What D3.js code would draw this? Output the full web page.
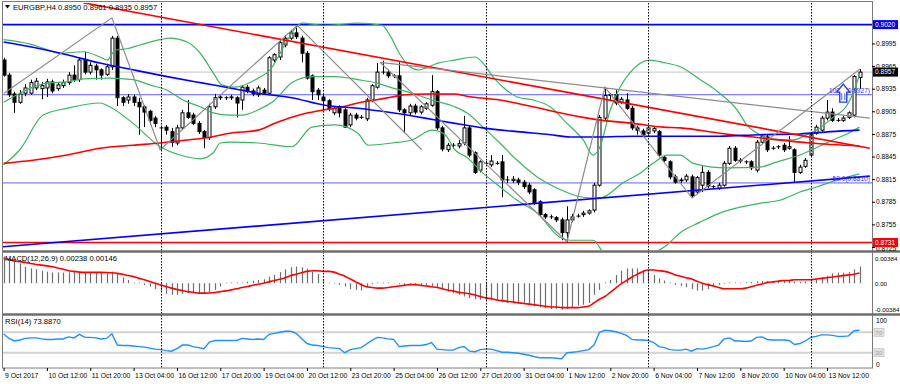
<!DOCTYPE html>
<html>
<head>
<meta charset="utf-8">
<script src="https://cdn.jsdelivr.net/npm/d3@7"></script>
<style>
  html, body { margin: 0; padding: 0; background: #fff; }
  svg { display: block; font-family: "Liberation Sans", Arial, sans-serif; }
</style>
</head>
<body>
<svg id="chart" width="900" height="384"></svg>
<script>
// EURGBP H4, 9 Oct 04:00 .. 14 Nov 12:00, one entry per bar
const opens = [
  .8973, .8953, .8928, .8917, .8929, .8929, .8936, .8935, .8936, .8944,
  .8935, .8939, .8943, .8953, .8947, .8973, .8957, .8965, .8960, .8954,
  .8964, .9002, .8923, .8920, .8924, .8917, .8911, .8905, .8896, .8883,
  .8884, .8878, .8863, .8883, .8903, .8900, .8889, .8878, .8870, .8911,
  .8923, .8923, .8924, .8923, .8920, .8937, .8932, .8927, .8933, .8929,
  .8973, .8977, .8993, .9002, .9009, .9002, .8982, .8952, .8933, .8924,
  .8919, .8903, .8911, .8907, .8887, .8900, .8897, .8895, .8920, .8937,
  .8957, .8957, .8952, .8952, .8907, .8903, .8912, .8904, .8909, .8913,
  .8931, .8883, .8854, .8860, .8859, .8863, .8883, .8850, .8827, .8836,
  .8834, .8836, .8838, .8814, .8813, .8814, .8811, .8807, .8801, .8785,
  .8768, .8765, .8764, .8761, .8744, .8761, .8766, .8768, .8770, .8774,
  .8807, .8896, .8926, .8927, .8917, .8920, .8909, .8883, .8879, .8876,
  .8879, .8878, .8844, .8838, .8818, .8813, .8814, .8818, .8798, .8807,
  .8824, .8805, .8803, .8807, .8836, .8856, .8840, .8838, .8838, .8827,
  .8864, .8871, .8856, .8858, .8860, .8856, .8854, .8824, .8832, .8847,
  .8876, .8880, .8896, .8904, .8893, .8893, .8897, .8900, .8950
];
const highs = [
  .8976, .8956, .8931, .8933, .8941, .8947, .8949, .8944, .8948, .8947,
  .8943, .8947, .8957, .8966, .8976, .8984, .8970, .8968, .8962, .8968,
  .9005, .9005, .8925, .8928, .8927, .8923, .8913, .8907, .8899, .8886,
  .8887, .8883, .8887, .8907, .8920, .8903, .8892, .8880, .8915, .8928,
  .8927, .8925, .8927, .8925, .8940, .8940, .8935, .8939, .8936, .8978,
  .8982, .9000, .9006, .9013, .9019, .9005, .8985, .8954, .8936, .8927,
  .8921, .8912, .8913, .8909, .8903, .8903, .8900, .8923, .8941, .8969,
  .8972, .8960, .8954, .8970, .8909, .8915, .8915, .8913, .8917, .8953,
  .8933, .8886, .8863, .8863, .8867, .8899, .8886, .8852, .8840, .8839,
  .8847, .8839, .8847, .8819, .8819, .8817, .8814, .8810, .8803, .8787,
  .8770, .8768, .8766, .8764, .8779, .8769, .8769, .8773, .8775, .8810,
  .8900, .8937, .8929, .8933, .8924, .8929, .8912, .8886, .8882, .8886,
  .8884, .8880, .8847, .8840, .8821, .8817, .8822, .8821, .8819, .8832,
  .8827, .8807, .8810, .8839, .8859, .8859, .8843, .8840, .8840, .8867,
  .8875, .8874, .8859, .8860, .8863, .8872, .8856, .8834, .8843, .8876,
  .8887, .8899, .8920, .8909, .8896, .8899, .8905, .8953, .8961
];
const lows = [
  .8951, .8924, .8903, .8915, .8925, .8927, .8933, .8921, .8924, .8929,
  .8932, .8936, .8940, .8944, .8944, .8954, .8954, .8947, .8947, .8952,
  .8960, .8912, .8912, .8915, .8912, .8874, .8884, .8887, .8884, .8854,
  .8874, .8858, .8860, .8880, .8895, .8887, .8875, .8856, .8867, .8908,
  .8920, .8920, .8920, .8897, .8907, .8929, .8925, .8924, .8927, .8927,
  .8970, .8973, .8990, .9000, .9001, .8970, .8947, .8920, .8920, .8907,
  .8905, .8900, .8897, .8883, .8884, .8893, .8895, .8892, .8917, .8935,
  .8954, .8949, .8949, .8904, .8876, .8900, .8901, .8901, .8907, .8911,
  .8880, .8852, .8851, .8856, .8856, .8860, .8844, .8822, .8824, .8834,
  .8831, .8834, .8791, .8810, .8810, .8807, .8802, .8795, .8781, .8765,
  .8762, .8762, .8758, .8734, .8731, .8758, .8764, .8765, .8768, .8771,
  .8805, .8893, .8920, .8913, .8915, .8907, .8880, .8874, .8871, .8874,
  .8876, .8844, .8838, .8815, .8809, .8810, .8811, .8790, .8795, .8798,
  .8803, .8802, .8801, .8805, .8834, .8838, .8836, .8835, .8827, .8824,
  .8862, .8851, .8854, .8855, .8851, .8854, .8810, .8822, .8830, .8844,
  .8874, .8878, .8893, .8891, .8891, .8891, .8895, .8897, .8935
];
const closes = [
  .8953, .8927, .8917, .8928, .8936, .8943, .8945, .8939, .8944, .8932,
  .8940, .8943, .8953, .8947, .8973, .8957, .8966, .8960, .8953, .8964,
  .9002, .8923, .8917, .8924, .8917, .8911, .8904, .8893, .8889, .8883,
  .8880, .8864, .8883, .8903, .8897, .8889, .8878, .8870, .8911, .8923,
  .8924, .8923, .8923, .8916, .8937, .8932, .8928, .8936, .8929, .8976,
  .8980, .8996, .9002, .9009, .9004, .8982, .8949, .8931, .8927, .8919,
  .8908, .8909, .8903, .8884, .8900, .8896, .8897, .8920, .8939, .8957,
  .8957, .8952, .8952, .8907, .8903, .8912, .8904, .8911, .8915, .8931,
  .8883, .8855, .8860, .8860, .8862, .8883, .8847, .8824, .8838, .8836,
  .8839, .8836, .8814, .8814, .8815, .8811, .8805, .8798, .8783, .8768,
  .8765, .8765, .8761, .8744, .8761, .8765, .8766, .8770, .8773, .8807,
  .8897, .8926, .8927, .8916, .8921, .8909, .8883, .8880, .8874, .8883,
  .8882, .8847, .8840, .8818, .8811, .8814, .8819, .8793, .8817, .8824,
  .8806, .8805, .8807, .8836, .8856, .8840, .8839, .8838, .8830, .8864,
  .8872, .8854, .8856, .8858, .8854, .8858, .8824, .8831, .8840, .8874,
  .8884, .8896, .8904, .8893, .8893, .8896, .8903, .8951, .8957
];

const macdMain = [
  .00384, .00356, .00332, .00284, .00237, .00213, .00199, .0018, .00166, .00156,
  .00156, .00152, .00156, .00161, .00156, .00156, .00156, .00156, .00152, .00142,
  .00166, .00142, .00085, .00047, .00009, 0, -.00024, -.00047, -.00085, -.00119,
  -.00152, -.00166, -.00166, -.00152, -.00142, -.00142, -.00142, -.00142, -.00133, -.00095,
  -.00047, .00009, 0, 0, .00009, .00024, .00038, .00047, .00057, .00095,
  .00119, .0016, .002, .0023, .0024, .0023, .0021, .00166, .00133, .00057,
  .00009, -.00009, -.00024, -.00047, -.00085, -.00095, -.00104, -.00057, -.00014, 0,
  0, 0, -.00005, -.00014, -.00024, -.00024, -.00028, -.00028, -.00033, -.00038,
  -.00057, -.00085, -.00119, -.00142, -.00166, -.0019, -.00213, -.00228, -.00237, -.00246,
  -.00246, -.00251, -.00275, -.00284, -.00284, -.00294, -.00299, -.00308, -.00332, -.00346,
  -.0036, -.0037, -.0037, -.00379, -.0037, -.00341, -.00322, -.00308, -.00284, -.00166,
  -.00095, 0, .00047, .00118, .0018, .00213, .00213, .00213, .0019, .00166,
  .00118, .00071, .00038, 0, -.00024, -.00038, -.00057, -.00085, -.00104, -.00104,
  -.00085, -.00047, -.00024, -.00009, 0, 0, .00009, .00014, .00019, .00028,
  .00033, .00033, .00028, .00033, .00033, .00033, .00024, .00019, .00024, .00038,
  .00057, .00085, .00109, .00142, .00152, .00152, .00161, .00199, .00238
];
const macdSignal = [
  .00356, .0034, .0032, .0031, .003, .00284, .0027, .0026, .0025, .00237,
  .0022, .002, .0018, .0017, .0016, .00156, .00156, .00156, .00156, .00154,
  .0015, .00142, .0013, .0011, .00095, .0007, .0005, .00024, 0, -.00024,
  -.00047, -.0007, -.0009, -.00104, -.0012, -.0013, -.00142, -.00142, -.0014, -.00133,
  -.0012, -.0011, -.00095, -.0008, -.0006, -.00047, -.0003, -.00015, 0, .0002,
  .0004, .00057, .0008, .0011, .0013, .0015, .0017, .0018, .0018, .0017,
  .0017, .0016, .0013, .001, .0006, .0002, -.0002, -.0005, -.0006, -.0007,
  -.0007, -.0006, -.0005, -.0004, -.0003, -.0002, -.0002, -.0003, -.0004, -.0005,
  -.0006, -.0008, -.001, -.0011, -.0013, -.0014, -.0015, -.0017, -.0019, -.0021,
  -.0022, -.0024, -.0025, -.0026, -.0027, -.0028, -.0029, -.003, -.0031, -.0032,
  -.0033, -.0034, -.0034, -.0035, -.0035, -.0035, -.0035, -.0034, -.0033, -.0028,
  -.0023, -.0019, -.0013, -.0007, -.0001, .0004, .0009, .0013, .0017, .0019,
  .0019, .0018, .0017, .0015, .0012, .001, .0008, .0006, .0003, 0,
  -.0002, -.0004, -.0006, -.0008, -.0008, -.0008, -.0008, -.0007, -.0005, -.0003,
  -.0001, .0001, .0002, .0003, .0004, .0004, .0005, .0005, .0005, .0005,
  .0006, .0007, .0008, .0009, .001, .0011, .0012, .0013, .00146
];
const rsiValues = [
  66.7, 58, 53, 55, 58, 59, 59, 57, 56, 56,
  57, 57, 61, 59, 66, 60, 60, 59, 57, 58,
  67, 45, 44, 44, 43, 42, 41, 39, 37, 36,
  34, 33, 38, 45, 45, 42, 40, 38, 51, 54,
  54, 54, 54, 54, 58, 57, 56, 57, 56, 66,
  68, 70, 72, 72, 68, 58, 48, 45, 44, 42,
  40, 39, 38, 30, 36, 38, 40, 47, 54, 60,
  59, 57, 56, 42, 43, 44, 44, 44, 46, 50,
  37, 36, 35, 35, 40, 42, 33, 32, 36, 37,
  37, 34, 31, 31, 30, 29, 27, 25, 22, 20,
  20, 20, 19, 18, 30, 31, 32, 34, 36, 45,
  70, 74, 73, 71, 68, 64, 56, 55, 55, 54,
  50, 42, 40, 36, 35, 35, 37, 33, 38, 37,
  39, 42, 45, 57, 59, 53, 53, 52, 53, 60,
  61, 56, 55, 55, 55, 54, 46, 48, 53, 60,
  62, 65, 65, 64, 62, 62, 63, 73, 73.887
];

// indicator curves as [bar, price]
const bbUpper = [
  [0, .9000], [4.9, .8994], [7.6, .8988], [10.4, .8982], [14.7, .8984], [17.8, .8977], [19.1, .8973],
  [20.6, .8986], [22.8, .8988], [25.2, .8993], [28.9, .9000], [30.7, .9002], [33.9, .8997], [36.3, .8982],
  [38.7, .8956], [40.3, .8940], [42.7, .8937], [47, .8949], [49.2, .8960], [51.9, .8993], [53.8, .9015],
  [55.1, .9022], [59.3, .9019], [65.4, .9022], [69.9, .9019], [71.3, .9006], [73.2, .8980], [75, .8964],
  [76.5, .8960], [80.2, .8969], [83.3, .8973], [87, .8977], [88.5, .8969], [90.3, .8951], [92.2, .8937],
  [94.8, .8924], [97.7, .8920], [100.9, .8911], [104, .8889], [107, .8867], [108.8, .8847], [110.1, .8858],
  [112, .8907], [113.8, .8937], [115.6, .8956], [119.3, .8973], [121.7, .8970], [124.9, .8964],
  [128.6, .8947], [132.2, .8929], [135.4, .8907], [137.2, .8887], [139.6, .8874], [142.8, .8867],
  [145.7, .8867], [148.3, .8874], [150.7, .8883], [153.1, .8897], [155.7, .8913], [156.8, .8929], [158, .8953]
];
const bbMiddle = [
  [0, .8917], [2.5, .8927], [5.4, .8937], [8.6, .8943], [11.7, .8944], [14.7, .8948], [19.6, .8949],
  [23.9, .8947], [27, .8940], [30.2, .8933], [33.1, .8920], [36.3, .8911], [38.7, .8903], [41.8, .8900],
  [44, .8900], [47, .8907], [50.1, .8920], [53.2, .8943], [56.9, .8951], [61.2, .8951], [65.4, .8947],
  [68.6, .8943], [71.7, .8936], [75.4, .8929], [79.1, .8920], [83.3, .8911], [85.5, .8903], [88.5, .8884],
  [91.6, .8863], [94.8, .8840], [98.5, .8818], [102.2, .8803], [107, .8791], [108.8, .8790], [110.6, .8791],
  [114.3, .8810], [117.5, .8823], [119.9, .8836], [122.5, .8847], [124.9, .8847], [127.3, .8836],
  [133.5, .8830], [139.6, .8831], [142.8, .8838], [147, .8847], [150.7, .8859], [153.1, .8867],
  [155.7, .8875], [158, .8884]
];
const bbLower = [
  [0, .8834], [3, .8854], [7.3, .8900], [11.7, .8909], [17.8, .8916], [19.6, .8911], [23.9, .8889],
  [28.9, .8858], [32.6, .8847], [36.3, .8842], [38.7, .8850], [40, .8863], [41.8, .8864], [47, .8863],
  [53.2, .8858], [56.9, .8884], [61.2, .8887], [65.4, .8876], [67.3, .8860], [71.7, .8863], [75.4, .8867],
  [79.1, .8880], [81.5, .8874], [83.3, .8854], [85.5, .8844], [88.5, .8823], [91.6, .8805], [94.8, .8787],
  [98.5, .8770], [102.7, .8738], [104.6, .8734], [108.8, .8734], [111, .8714], [114.7, .8701],
  [118.4, .8711], [122.5, .8728], [124.9, .8744], [128.6, .8758], [132.2, .8770], [136, .8778],
  [139.6, .8783], [143.3, .8787], [147, .8798], [150.2, .8805], [153.9, .8814], [158, .8822]
];
const maRed = [
  [0, .8836], [5.4, .8840], [11.7, .8847], [17.8, .8856], [23.9, .8860], [28.9, .8863], [33.9, .8867],
  [37.5, .8870], [41.8, .8876], [47, .8880], [50.1, .8889], [53.2, .8897], [56.2, .8903], [59.3, .8907],
  [62.5, .8911], [65.4, .8916], [68.6, .8920], [71.7, .8924], [74.1, .8927], [77.8, .8928], [83.3, .8928],
  [85.5, .8925], [91.6, .8920], [97.7, .8911], [102.7, .8903], [107, .8897], [110.6, .8893],
  [116.2, .8889], [121.7, .8884], [124.9, .8883], [132.2, .8876], [139.6, .8870], [148.9, .8863], [158, .8859]
];
const maBlue = [
  [0, .8997], [5.4, .8990], [11.7, .8980], [17.8, .8969], [23.9, .8960], [30.2, .8951], [36.3, .8943],
  [41.8, .8936], [47, .8929], [53.2, .8923], [59.3, .8913], [65.4, .8909], [71.7, .8903], [77.8, .8896],
  [83.3, .8889], [88.5, .8883], [94.8, .8878], [100.9, .8874], [104.6, .8871], [110.1, .8871],
  [116.2, .8872], [124.9, .8872], [132.2, .8872], [139.6, .8874], [147, .8875], [152.6, .8878], [158, .8880]
];

// drawn objects
const redTrend = [[14.66, .9049], [159.9, .8856]];
const blueTrend = [[-0.66, .8725], [159.9, .8819]];
const grayTrend = [[69.5, .8970], [159.9, .8896]];
const grayFalling = [[[54.2, .9019], [77.2, .8854]], [[69.5, .8970], [104, .8732]]];
const zigzagLeft = [[0.07, .8929], [20, .9029], [28.9, .8854], [54.2, .9019]];
const zigzagRight = [[104, .8732], [111, .8937], [127.1, .8790], [158.1, .8961]];
const resistance = 0.9020;
const support = 0.8731;
const bidPrice = 0.8957;
const fibLevels = [0.8927, 0.8810];
const fibNames = ['100.0', '50.0'];
const arrowMark = [155, 0.8941];

const priceTicks = [0.8995, 0.8965, 0.8935, 0.8905, 0.8875, 0.8845, 0.8815, 0.8785, 0.8755, 0.8725];
const macdTicks = [0.00384, 0, -0.00384];
const macdTickLabels = ['0.00384', '0.00', '-0.00384'];
const timeBars = [0, 8, 16, 24, 32, 40, 48, 56, 64, 72, 80, 88, 96, 104, 112, 120, 128, 136, 144, 152];
const timeLabels = [
  '9 Oct 2017', '10 Oct 12:00', '11 Oct 20:00', '13 Oct 04:00', '16 Oct 12:00', '17 Oct 20:00',
  '19 Oct 04:00', '20 Oct 12:00', '23 Oct 20:00', '25 Oct 04:00', '26 Oct 12:00', '27 Oct 20:00',
  '31 Oct 04:00', '1 Nov 12:00', '2 Nov 20:00', '6 Nov 04:00', '7 Nov 12:00', '8 Nov 20:00',
  '10 Nov 04:00', '13 Nov 12:00'
];
const weekStarts = [29, 59, 89, 119, 149];

const svg = d3.select('#chart');
const left = 3, right = 872;
const mainBox = { top: 3, bottom: 250 };
const macdBox = { top: 254, bottom: 313 };
const rsiBox = { top: 316, bottom: 368 };
const AXIS_FONT = 6.6;
const MACD_FONT = 6.2;
const TIME_FONT = 6.8;
const CAPTION_FONT = 7.6;

const x = d3.scaleLinear().domain([0, 158]).range([3.6, 859.5]);
const yMain = d3.scaleLinear().domain([0.8731, 0.9020]).range([242.5, 24.6]);
const yMacd = d3.scaleLinear().domain([-0.00384, 0.00384]).range([310, 256.5]);
const yRsi = d3.scaleLinear().domain([0, 100]).range([368, 317]);

const defs = svg.append('defs');
[['clipMain', mainBox], ['clipMacd', macdBox], ['clipRsi', rsiBox]].forEach(([id, b]) => {
  defs.append('clipPath').attr('id', id).append('rect')
    .attr('x', left).attr('y', b.top).attr('width', right - left).attr('height', b.bottom - b.top);
});

const main = svg.append('g').attr('clip-path', 'url(#clipMain)');
const macdG = svg.append('g').attr('clip-path', 'url(#clipMacd)');
const rsiG = svg.append('g').attr('clip-path', 'url(#clipRsi)');

const hLine = (g, y, color, width) => g.append('line')
  .attr('x1', left).attr('x2', right).attr('y1', y).attr('y2', y)
  .attr('stroke', color).attr('stroke-width', width);

const pathOf = (g, pts, scaleY, color, width, curve) => g.append('path')
  .datum(pts)
  .attr('fill', 'none').attr('stroke', color).attr('stroke-width', width)
  .attr('d', d3.line().x(d => x(d[0])).y(d => scaleY(d[1])).curve(curve || d3.curveLinear));

// main panel
hLine(main, yMain(bidPrice), '#c4c4c4', 1);
fibLevels.forEach(p => hLine(main, yMain(p), '#5f5fff', 1));
hLine(main, yMain(resistance), '#0000ff', 1.6);
hLine(main, yMain(support), '#ff0000', 1.6);

const bars = closes.map((c, i) => ({ i, o: opens[i], h: highs[i], l: lows[i], c }));
const candleG = main.append('g');
candleG.selectAll('line').data(bars).join('line')
  .attr('x1', d => Math.round(x(d.i)) + 0.5).attr('x2', d => Math.round(x(d.i)) + 0.5)
  .attr('y1', d => yMain(d.h)).attr('y2', d => yMain(d.l))
  .attr('stroke', '#000').attr('stroke-width', 1);
candleG.selectAll('rect').data(bars).join('rect')
  .attr('x', d => Math.round(x(d.i)) - 1)
  .attr('y', d => yMain(Math.max(d.o, d.c)))
  .attr('width', 3)
  .attr('height', d => Math.max(0.01, Math.abs(yMain(d.o) - yMain(d.c))))
  .attr('fill', d => d.c >= d.o ? '#fff' : '#000')
  .attr('stroke', '#000').attr('stroke-width', 1);

const bbColor = '#3cb464';
[bbUpper, bbMiddle, bbLower].forEach(band => pathOf(main, band, yMain, bbColor, 1.2, d3.curveMonotoneX));
pathOf(main, maRed, yMain, '#ff0000', 1.6, d3.curveMonotoneX);
pathOf(main, maBlue, yMain, '#0000ff', 1.6, d3.curveMonotoneX);

pathOf(main, redTrend, yMain, '#ff0000', 1.6);
pathOf(main, blueTrend, yMain, '#0000ff', 1.6);
pathOf(main, grayTrend, yMain, '#8c8c8c', 1.2);
grayFalling.forEach(seg => pathOf(main, seg, yMain, '#8c8c8c', 1.2));
pathOf(main, zigzagLeft, yMain, '#8c8c8c', 1.2);
pathOf(main, zigzagRight, yMain, '#8c8c8c', 1.2);

fibLevels.forEach((p, k) => {
  main.append('text').attr('x', right - 2).attr('y', yMain(p) - 2)
    .attr('text-anchor', 'end').attr('font-size', AXIS_FONT).attr('fill', '#3232ff')
    .text(`${fibNames[k]}(${p.toFixed(4)})`);
});

// up arrow object
const ax = x(arrowMark[0]), ay = yMain(arrowMark[1]);
main.append('path')
  .attr('d', `M${ax},${ay} L${ax + 6.5},${ay + 8} L${ax + 3.5},${ay + 8} L${ax + 3.5},${ay + 18}
    L${ax - 3.5},${ay + 18} L${ax - 3.5},${ay + 8} L${ax - 6.5},${ay + 8} Z`)
  .attr('fill', '#fff').attr('stroke', '#1e3cff').attr('stroke-width', 1.4);
main.append('path')
  .attr('d', `M${ax - 1.5},${ay + 9} L${ax - 1.5},${ay + 16} M${ax + 1.5},${ay + 9} L${ax + 1.5},${ay + 16}`)
  .attr('stroke', '#1e3cff').attr('stroke-width', 0.8);

// MACD panel
macdG.selectAll('line').data(macdMain).join('line')
  .attr('x1', (d, i) => Math.round(x(i)) + 0.5).attr('x2', (d, i) => Math.round(x(i)) + 0.5)
  .attr('y1', yMacd(0)).attr('y2', d => d === 0 ? yMacd(0) - 0.8 : yMacd(d))
  .attr('stroke', '#6e6e6e').attr('stroke-width', 1.2);
pathOf(macdG, macdSignal.map((v, i) => [i, v]), yMacd, '#ff0000', 1.6, d3.curveMonotoneX);

// RSI panel
[70, 30].forEach(v => hLine(rsiG, yRsi(v), '#d2d2d2', 2));
pathOf(rsiG, rsiValues.map((v, i) => [i, v]), yRsi, '#1e90ff', 1.4);

// week separators
svg.append('g').selectAll('line').data(weekStarts).join('line')
  .attr('x1', d => Math.round(x(d)) + 0.5).attr('x2', d => Math.round(x(d)) + 0.5)
  .attr('y1', mainBox.top).attr('y2', rsiBox.bottom)
  .attr('stroke', '#000').attr('stroke-width', 1).attr('stroke-dasharray', '1.5,1.5');

// frames
const frame = svg.append('g').attr('fill', 'none');
frame.append('rect').attr('x', left - 0.5).attr('y', 1.5).attr('width', right - left + 1).attr('height', rsiBox.bottom - 1.5)
  .attr('stroke', '#7a7a7a').attr('stroke-width', 1);
[251.5, 314.5].forEach(y => frame.append('line').attr('x1', left).attr('x2', right + 28).attr('y1', y).attr('y2', y)
  .attr('stroke', '#6e6e6e').attr('stroke-width', 2.5));

// axes
const txt = (sel, size) => sel.attr('font-size', size || AXIS_FONT).attr('fill', '#000');

const priceAxis = d3.axisRight(yMain).tickValues(priceTicks).tickSize(3).tickFormat(d3.format('.4f'));
svg.append('g').attr('transform', `translate(${right},0)`).call(priceAxis)
  .call(g => g.select('.domain').remove())
  .call(g => g.selectAll('line').attr('stroke', '#000'))
  .call(g => g.selectAll('text').call(txt).attr('font-family', null).attr('x', 4))
  .call(g => g.selectAll('.tick').filter(d => d === 0.8725).select('text').attr('dy', '0.55em'));

const tag = (value, fill, color) => {
  const yy = yMain(value);
  svg.append('rect').attr('x', right + 1).attr('y', yy - 4.5).attr('width', 25).attr('height', 9).attr('fill', fill);
  svg.append('text').attr('x', right + 3).attr('y', yy + 2.3).attr('font-size', AXIS_FONT).attr('fill', color)
    .text(value.toFixed(4));
};
tag(resistance, '#0000ff', '#fff');
tag(bidPrice, '#000', '#fff');
tag(support, '#ff0000', '#fff');

const macdAxis = d3.axisRight(yMacd).tickValues(macdTicks).tickSize(0)
  .tickFormat((d, k) => macdTickLabels[k]);
svg.append('g').attr('transform', `translate(${right},0)`).call(macdAxis)
  .call(g => g.select('.domain').remove())
  .call(g => g.selectAll('text').call(txt, MACD_FONT).attr('font-family', null).attr('x', 3))
  .call(g => g.selectAll('.tick').filter(d => d > 0).select('text').attr('dy', '0.6em'));

[100, 0].forEach(v => {
  svg.append('text').attr('x', right + 4).attr('y', yRsi(v) + (v === 100 ? 5.5 : -1.5)).call(txt).text(v);
});
[70, 30].forEach(v => {
  svg.append('rect').attr('x', right + 2).attr('y', yRsi(v) - 4).attr('width', 10).attr('height', 8)
    .attr('fill', '#e0e0e0').attr('stroke', '#bdbdbd').attr('stroke-width', 0.6);
  svg.append('text').attr('x', right + 3.3).attr('y', yRsi(v) + 2.3).attr('font-size', AXIS_FONT - 0.6)
    .attr('fill', '#a0a0a0').text(v);
});

const timeAxis = d3.axisBottom(x).tickValues(timeBars).tickSize(3).tickFormat((d, k) => timeLabels[k]);
svg.append('g').attr('transform', `translate(0,${rsiBox.bottom})`).call(timeAxis)
  .call(g => g.select('.domain').remove())
  .call(g => g.selectAll('line').attr('stroke', '#000'))
  .call(g => g.selectAll('text').call(txt, TIME_FONT).attr('font-family', null)
    .attr('text-anchor', 'start').attr('dx', 1).attr('y', 5).attr('dy', '0.71em'));

// captions
svg.append('path').attr('d', 'M5,5 L10,5 L7.5,8.5 Z').attr('fill', '#000');
svg.append('text').attr('x', 13).attr('y', 9.5).call(txt, CAPTION_FONT).text('EURGBP,H4 0.8950 0.8961 0.8935 0.8957');
svg.append('text').attr('x', 5).attr('y', 261).call(txt, CAPTION_FONT).text('MACD(12,26,9) 0.00238 0.00146');
svg.append('text').attr('x', 5).attr('y', 324).call(txt, CAPTION_FONT).text('RSI(14) 73.8870');
</script>
</body>
</html>
